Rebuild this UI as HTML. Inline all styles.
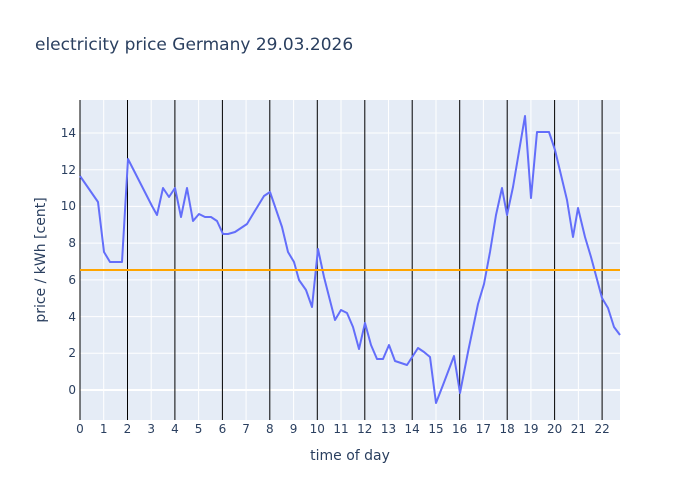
<!DOCTYPE html>
<html><head><meta charset="utf-8"><style>body{margin:0;background:#fff}svg{display:block;font-family:"DejaVu Sans",sans-serif}</style></head><body>
<svg width="700" height="500" xmlns="http://www.w3.org/2000/svg">
<rect width="700" height="500" fill="#fff"/>
<rect x="80" y="100" width="540" height="320" fill="#e5ecf6"/>
<g stroke="#fff" stroke-width="1">
<line x1="80" x2="620" y1="390" y2="390" stroke-width="2"/>
<line x1="80" x2="620" y1="353.3" y2="353.3"/><line x1="80" x2="620" y1="316.6" y2="316.6"/><line x1="80" x2="620" y1="279.9" y2="279.9"/><line x1="80" x2="620" y1="243.1" y2="243.1"/><line x1="80" x2="620" y1="206.4" y2="206.4"/><line x1="80" x2="620" y1="169.7" y2="169.7"/><line x1="80" x2="620" y1="133" y2="133"/>
<line x1="103.7" x2="103.7" y1="100" y2="420"/><line x1="151.2" x2="151.2" y1="100" y2="420"/><line x1="198.6" x2="198.6" y1="100" y2="420"/><line x1="246.1" x2="246.1" y1="100" y2="420"/><line x1="293.6" x2="293.6" y1="100" y2="420"/><line x1="341" x2="341" y1="100" y2="420"/><line x1="388.5" x2="388.5" y1="100" y2="420"/><line x1="436" x2="436" y1="100" y2="420"/><line x1="483.4" x2="483.4" y1="100" y2="420"/><line x1="530.9" x2="530.9" y1="100" y2="420"/><line x1="578.4" x2="578.4" y1="100" y2="420"/>
</g>
<g stroke="#000" stroke-width="1">
<line x1="80" x2="80" y1="100" y2="420"/>
<line x1="127.5" x2="127.5" y1="100" y2="420"/><line x1="174.9" x2="174.9" y1="100" y2="420"/><line x1="222.4" x2="222.4" y1="100" y2="420"/><line x1="269.8" x2="269.8" y1="100" y2="420"/><line x1="317.3" x2="317.3" y1="100" y2="420"/><line x1="364.8" x2="364.8" y1="100" y2="420"/><line x1="412.2" x2="412.2" y1="100" y2="420"/><line x1="459.7" x2="459.7" y1="100" y2="420"/><line x1="507.2" x2="507.2" y1="100" y2="420"/><line x1="554.6" x2="554.6" y1="100" y2="420"/><line x1="602.1" x2="602.1" y1="100" y2="420"/>
</g>
<polyline fill="none" stroke="#636efa" stroke-width="2" stroke-linejoin="round" points="80,176 98,202 104,252 110,262 122,262 128,159 152,206 157,215 163,188 169,197 175,188 181,217 187,188 193,221 199,214 205,217 211,217 217,221 223,234 228,234 235,232 247,224 253,214 264,196 270,192 282,227 288,252 294,262 299,280 306,290 312,307 318,249 324,277 335,320 341,310 347,313 353,327 359,349 365,323 371,345 377,359 383,359 389,345 395,361 407,365 418,348 424,352 430,357 436,403 443,385 454,356 460,393 468,352 478,304 484,284 490,252 496,215 502,188 507,215 513,187 525,116 531,198 537,132 549,132 555,150 567,200 573,237 578,208 585,237 591,257 602,298 608,308 614,327 620,335"/>
<line x1="80" x2="620" y1="270" y2="270" stroke="#ffa500" stroke-width="2"/>
<g fill="#2a3f5f" font-size="12" text-anchor="end">
<text x="76" y="394">0</text><text x="76" y="357">2</text><text x="76" y="321">4</text><text x="76" y="284">6</text><text x="76" y="247">8</text><text x="76" y="210">10</text><text x="76" y="174">12</text><text x="76" y="137">14</text>
</g>
<g fill="#2a3f5f" font-size="12" text-anchor="middle">
<text x="80" y="433">0</text><text x="103.7" y="433">1</text><text x="127.5" y="433">2</text><text x="151.2" y="433">3</text><text x="174.9" y="433">4</text><text x="198.6" y="433">5</text><text x="222.4" y="433">6</text><text x="246.1" y="433">7</text><text x="269.8" y="433">8</text><text x="293.6" y="433">9</text><text x="317.3" y="433">10</text><text x="341" y="433">11</text><text x="364.8" y="433">12</text><text x="388.5" y="433">13</text><text x="412.2" y="433">14</text><text x="436" y="433">15</text><text x="459.7" y="433">16</text><text x="483.4" y="433">17</text><text x="507.2" y="433">18</text><text x="530.9" y="433">19</text><text x="554.6" y="433">20</text><text x="578.4" y="433">21</text><text x="602.1" y="433">22</text>
<text x="350" y="460" font-size="14">time of day</text>
<text transform="translate(45,260) rotate(-90)" font-size="14">price / kWh [cent]</text>
</g>
<text x="35" y="50" fill="#2a3f5f" font-size="17">electricity price Germany 29.03.2026</text>
</svg>
</body></html>
